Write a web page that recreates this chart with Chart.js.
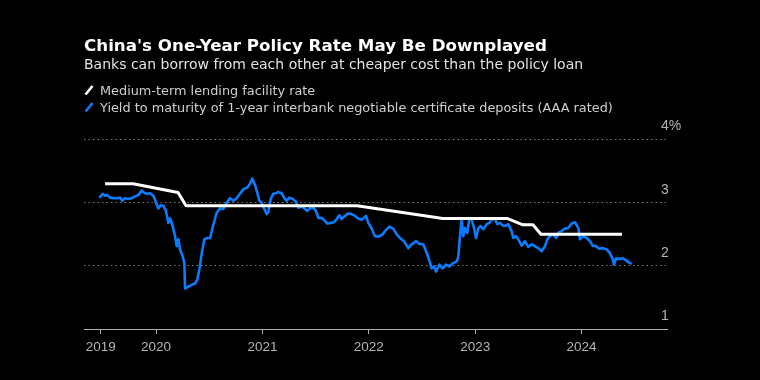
<!DOCTYPE html>
<html>
<head>
<meta charset="utf-8">
<script src="https://cdn.jsdelivr.net/npm/chart.js@4.4.1/dist/chart.umd.min.js"></script>
<style>
  html, body { margin: 0; padding: 0; background: #000; }
  canvas { display: block; }
</style>
</head>
<body>
<canvas id="c" width="760" height="380"></canvas>
<script>
// ---- Text ----
const titleText = "China's One-Year Policy Rate May Be Downplayed";
const subtitleText = "Banks can borrow from each other at cheaper cost than the policy loan";
const seriesNames = ["Medium-term lending facility rate",
  "Yield to maturity of 1-year interbank negotiable certificate deposits (AAA rated)"];

// ---- Axis ticks ----
const yearTickValues = [2019.48, 2020, 2021, 2022, 2023, 2024];
const yearTickLabels = ["2019", "2020", "2021", "2022", "2023", "2024"];
const yTickValues = [1, 2, 3, 4];
const yTickLabels = ["1", "2", "3", "4%"];
const xMin = 2019.323, xMax = 2024.803;

// ---- Medium-term lending facility rate (%), time in fractional years ----
const mlfYears = [2019.521, 2019.784, 2020.207, 2020.282, 2021.889, 2022.697, 2023.299, 2023.449, 2023.543, 2023.618, 2024.380];
const mlfRate  = [3.30, 3.30, 3.16, 2.95, 2.95, 2.75, 2.75, 2.65, 2.65, 2.50, 2.50];

// ---- 1-year AAA interbank NCD yield (%) ----
const ncdYears = [
  2019.467, 2019.499, 2019.521, 2019.542, 2019.568, 2019.599, 2019.631, 2019.662, 2019.683, 2019.709,
  2019.740, 2019.772, 2019.803, 2019.834, 2019.866, 2019.887, 2019.913, 2019.944, 2019.975, 2020.000,
  2020.022, 2020.044, 2020.069, 2020.094, 2020.116, 2020.132, 2020.157, 2020.179, 2020.195, 2020.210,
  2020.226, 2020.251, 2020.266, 2020.273, 2020.304, 2020.336, 2020.367, 2020.388, 2020.407, 2020.430,
  2020.454, 2020.482, 2020.508, 2020.539, 2020.570, 2020.602, 2020.633, 2020.664, 2020.695, 2020.727,
  2020.758, 2020.789, 2020.820, 2020.858, 2020.883, 2020.905, 2020.930, 2020.946, 2020.971, 2020.993,
  2021.015, 2021.040, 2021.055, 2021.078, 2021.102, 2021.128, 2021.149, 2021.181, 2021.203, 2021.228,
  2021.253, 2021.285, 2021.316, 2021.337, 2021.369, 2021.400, 2021.422, 2021.447, 2021.478, 2021.504,
  2021.525, 2021.557, 2021.588, 2021.610, 2021.642, 2021.673, 2021.698, 2021.723, 2021.745, 2021.776,
  2021.807, 2021.839, 2021.870, 2021.901, 2021.933, 2021.974, 2021.995, 2022.027, 2022.058, 2022.089,
  2022.131, 2022.162, 2022.193, 2022.230, 2022.262, 2022.293, 2022.331, 2022.371, 2022.403, 2022.444,
  2022.475, 2022.512, 2022.550, 2022.575, 2022.591, 2022.613, 2022.632, 2022.663, 2022.695, 2022.726,
  2022.757, 2022.789, 2022.826, 2022.841, 2022.857, 2022.873, 2022.888, 2022.904, 2022.926, 2022.944,
  2022.967, 2022.989, 2023.008, 2023.030, 2023.052, 2023.076, 2023.108, 2023.133, 2023.155, 2023.186,
  2023.208, 2023.233, 2023.258, 2023.280, 2023.311, 2023.343, 2023.358, 2023.383, 2023.405, 2023.437,
  2023.468, 2023.499, 2023.531, 2023.562, 2023.593, 2023.625, 2023.656, 2023.678, 2023.703, 2023.734,
  2023.762, 2023.786, 2023.813, 2023.844, 2023.875, 2023.907, 2023.938, 2023.969, 2023.985, 2024.016,
  2024.048, 2024.079, 2024.104, 2024.135, 2024.166, 2024.204, 2024.236, 2024.267, 2024.292, 2024.305,
  2024.323, 2024.354, 2024.386, 2024.417, 2024.448, 2024.471];
const ncdYield = [
  3.08, 3.14, 3.11, 3.12, 3.08, 3.07, 3.07, 3.08, 3.03, 3.07,
  3.06, 3.07, 3.10, 3.12, 3.19, 3.16, 3.14, 3.15, 3.11, 3.00,
  2.91, 2.96, 2.95, 2.87, 2.68, 2.75, 2.63, 2.47, 2.31, 2.42,
  2.26, 2.15, 2.04, 1.64, 1.67, 1.70, 1.72, 1.78, 1.94, 2.20,
  2.42, 2.44, 2.44, 2.65, 2.84, 2.91, 2.90, 3.00, 3.07, 3.03,
  3.07, 3.14, 3.21, 3.24, 3.30, 3.38, 3.28, 3.19, 3.03, 3.00,
  2.91, 2.82, 2.85, 3.06, 3.14, 3.15, 3.17, 3.15, 3.08, 3.03,
  3.08, 3.06, 3.01, 2.92, 2.94, 2.90, 2.87, 2.91, 2.92, 2.87,
  2.76, 2.76, 2.71, 2.67, 2.68, 2.69, 2.74, 2.80, 2.74, 2.79,
  2.83, 2.82, 2.79, 2.75, 2.73, 2.79, 2.68, 2.59, 2.47, 2.46,
  2.50, 2.57, 2.62, 2.59, 2.50, 2.44, 2.39, 2.28, 2.34, 2.39,
  2.35, 2.34, 2.18, 2.05, 1.96, 1.99, 1.91, 2.02, 1.96, 2.02,
  1.99, 2.04, 2.07, 2.14, 2.47, 2.74, 2.47, 2.60, 2.52, 2.74,
  2.73, 2.60, 2.44, 2.60, 2.63, 2.58, 2.66, 2.68, 2.74, 2.74,
  2.66, 2.68, 2.64, 2.63, 2.66, 2.55, 2.44, 2.47, 2.42, 2.32,
  2.39, 2.30, 2.34, 2.31, 2.28, 2.23, 2.31, 2.42, 2.47, 2.50,
  2.44, 2.53, 2.55, 2.59, 2.60, 2.67, 2.69, 2.60, 2.42, 2.47,
  2.44, 2.39, 2.32, 2.31, 2.27, 2.28, 2.26, 2.20, 2.11, 2.02,
  2.12, 2.11, 2.12, 2.09, 2.05, 2.03];

// ---- Styles ----
const mlfColor = '#ffffff';
const ncdColor = '#0a7cff';
const yTickFont = { family: 'Liberation Sans', size: 14 };

const toPoints = (xs, ys) => xs.map((x, i) => ({ x: x, y: ys[i] }));

// width of the widest y label, so left-aligned mirrored labels start 6px inside the plot
const measureCtx = document.createElement('canvas').getContext('2d');
measureCtx.font = `normal ${yTickFont.size}px ${yTickFont.family}`;
const widestYLabel = Math.max(...yTickLabels.map(t => measureCtx.measureText(t).width));

const headerPlugin = {
  id: 'header',
  beforeDraw(chart) {
    const ctx = chart.ctx;
    ctx.save();
    ctx.fillStyle = '#000';
    ctx.fillRect(0, 0, chart.width, chart.height);
    ctx.restore();
  },
  afterDraw(chart) {
    const ctx = chart.ctx;
    ctx.save();
    ctx.textAlign = 'left';
    ctx.textBaseline = 'alphabetic';
    ctx.fillStyle = '#ffffff';
    ctx.font = 'bold 16.7px "DejaVu Sans"';
    ctx.fillText(titleText, 84, 51);
    ctx.fillStyle = '#e2e2e2';
    ctx.font = '14px "DejaVu Sans"';
    ctx.fillText(subtitleText, 84, 69);

    const rows = [{ name: seriesNames[0], color: mlfColor, base: 94.5 },
                  { name: seriesNames[1], color: ncdColor, base: 111.5 }];
    ctx.font = '12.85px "DejaVu Sans"';
    rows.forEach(r => {
      ctx.strokeStyle = r.color;
      ctx.lineWidth = 2.6;
      ctx.lineCap = 'butt';
      ctx.beginPath();
      ctx.moveTo(85.5, r.base);
      ctx.lineTo(92.5, r.base - 8.5);
      ctx.stroke();
      ctx.fillStyle = '#cfcfcf';
      ctx.fillText(r.name, 100, r.base);
    });
    ctx.restore();
  }
};

new Chart(document.getElementById('c'), {
  type: 'line',
  data: {
    datasets: [
      { label: seriesNames[0], data: toPoints(mlfYears, mlfRate), borderColor: mlfColor,
        borderWidth: 3, pointRadius: 0, tension: 0, borderJoinStyle: 'round' },
      { label: seriesNames[1], data: toPoints(ncdYears, ncdYield), borderColor: ncdColor,
        borderWidth: 2.6, pointRadius: 0, tension: 0, borderJoinStyle: 'round' }
    ]
  },
  options: {
    responsive: false,
    animation: false,
    devicePixelRatio: 1,
    layout: { padding: { left: 84, right: 73, top: 139.5, bottom: 19.8 } },
    plugins: { legend: { display: false }, tooltip: { enabled: false }, title: { display: false } },
    scales: {
      x: {
        type: 'linear', min: xMin, max: xMax,
        afterBuildTicks: s => { s.ticks = yearTickValues.map(v => ({ value: v })); },
        ticks: {
          callback: (v, i) => yearTickLabels[i],
          color: '#b4b4b4', font: { family: 'Liberation Sans', size: 13.5 },
          padding: 5, maxRotation: 0, autoSkip: false
        },
        grid: { display: true, drawOnChartArea: false, drawTicks: true, tickLength: 5, color: '#b0b0b0', lineWidth: 1 },
        border: { display: true, color: '#b0b0b0', width: 1 }
      },
      y: {
        type: 'linear', position: 'right', min: 1, max: 4,
        afterBuildTicks: s => { s.ticks = yTickValues.map(v => ({ value: v })); },
        afterFit: s => { s.width = 20; },
        ticks: {
          callback: (v) => yTickLabels[yTickValues.indexOf(v)],
          color: '#b4b4b4', font: yTickFont,
          mirror: true, crossAlign: 'far',
          padding: widestYLabel - 6, labelOffset: -13
        },
        grid: {
          drawTicks: false, lineWidth: 1,
          color: c => (c.tick && c.tick.value === 1) ? 'rgba(0,0,0,0)' : '#7a7a7a'
        },
        border: { display: false, dash: [1.5, 3] }
      }
    }
  },
  plugins: [headerPlugin]
});
</script>
</body>
</html>
